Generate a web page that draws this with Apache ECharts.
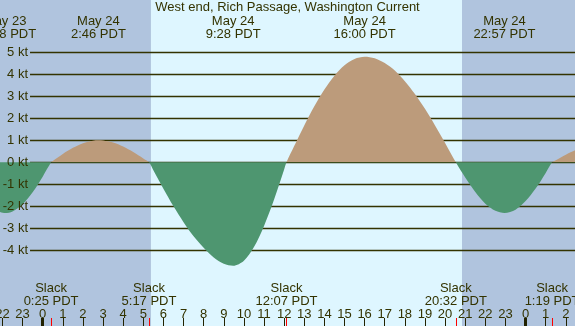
<!DOCTYPE html>
<html>
<head>
<meta charset="utf-8">
<script src="https://cdn.jsdelivr.net/npm/echarts@6/dist/echarts.min.js"></script>
<style>
  html, body { margin: 0; padding: 0; background: #B0C4DE; }
  #chart { width: 575px; height: 326px; }
</style>
</head>
<body>
<div id="chart"></div>
<script>
// hours from May 24 00:00 PDT
var times = [-2.5, -1.867, -1.5, -1.0, -0.5, 0.0, 0.417, 0.5, 1.0, 1.5, 2.0, 2.5, 2.767, 3.0, 3.5, 4.0, 4.5, 5.0, 5.283,
  5.5, 6.0, 6.5, 7.0, 7.5, 8.0, 8.5, 9.0, 9.467, 10.0, 10.5, 11.0, 11.5, 12.0, 12.117,
  12.5, 13.0, 13.5, 14.0, 14.5, 15.0, 15.5, 16.0, 16.5, 17.0, 17.5, 18.0, 18.5, 19.0, 19.5, 20.0, 20.533,
  21.0, 21.5, 22.0, 22.5, 22.95, 23.5, 24.0, 24.5, 25.0, 25.317, 25.5, 26.0, 26.5];
// current speed, knots (flood +, ebb -)
var speeds = [-2.13, -2.30, -2.23, -1.90, -1.36, -0.65, 0, 0.06, 0.38, 0.66, 0.87, 0.98, 1.00, 0.99, 0.90, 0.72, 0.47, 0.18, 0,
  -0.36, -1.20, -2.00, -2.72, -3.36, -3.88, -4.32, -4.61, -4.70, -4.47, -3.85, -2.89, -1.69, -0.33, 0,
  0.74, 1.68, 2.55, 3.31, 3.94, 4.41, 4.70, 4.80, 4.73, 4.51, 4.17, 3.69, 3.11, 2.43, 1.68, 0.88, 0,
  -0.69, -1.35, -1.88, -2.20, -2.30, -2.15, -1.76, -1.19, -0.48, 0, 0.10, 0.35, 0.57];

var hourTicks = [-2, -1, 0, 1, 2, 3, 4, 5, 6, 7, 8, 9, 10, 11, 12, 13, 14, 15, 16, 17, 18, 19, 20, 21, 22, 23, 24, 25, 26];
var midnights = [0, 24];
var slackTimes = [0.417, 5.283, 12.117, 20.533, 25.317];
var slackLabels = ['0:25 PDT', '5:17 PDT', '12:07 PDT', '20:32 PDT', '1:19 PDT'];
var peakTimes = [-1.867, 2.767, 9.467, 16.0, 22.95];
var peakDates = ['May 23', 'May 24', 'May 24', 'May 24', 'May 24'];
var peakLabels = ['22:08 PDT', '2:46 PDT', '9:28 PDT', '16:00 PDT', '22:57 PDT'];
var ktLevels = [5, 4, 3, 2, 1, 0, -1, -2, -3, -4];
var sunrise = 5.38, sunset = 20.84;

var xMin = -2.122, xMax = 26.456;
var yMin = -7.436, yMax = 7.377;
var lineStart = -0.63;

var ink = '#333300';
var dayColor = '#DEF6FF', nightColor = '#B0C4DE';
var floodColor = '#BC9B7B', ebbColor = '#4E9670';

var chart = echarts.init(document.getElementById('chart'));

function baseX(extra) {
  var o = {
    type: 'value', min: xMin, max: xMax, position: 'bottom',
    axisLine: { show: false, onZero: false }, splitLine: { show: false },
    axisTick: { show: false }, axisLabel: { show: false }
  };
  for (var k in extra) o[k] = extra[k];
  return o;
}

var option = {
  animation: false,
  textStyle: { fontFamily: 'Liberation Sans', color: ink },
  title: {
    text: 'West end, Rich Passage, Washington Current',
    left: 'center', top: 1, padding: 0,
    textStyle: { fontSize: 13, fontWeight: 'normal', color: ink, fontFamily: 'Liberation Sans' }
  },
  grid: { left: 0, right: 0, top: 0, bottom: 0, outerBoundsMode: 'none' },
  xAxis: [
    baseX({
      axisTick: { show: true, inside: true, length: 8, customValues: hourTicks, lineStyle: { color: '#222200', width: 1 } },
      axisLabel: {
        show: true, inside: true, margin: 5, customValues: hourTicks, fontSize: 13, color: ink,
        formatter: function (v) { return String(((Math.round(v) % 24) + 24) % 24); }
      }
    }),
    baseX({
      axisTick: { show: true, inside: true, length: 8, customValues: midnights, lineStyle: { color: '#222200', width: 3 } }
    }),
    baseX({
      axisTick: { show: true, inside: true, length: 8, customValues: slackTimes, lineStyle: { color: '#FF0000', width: 1 } },
      axisLabel: {
        show: true, inside: true, margin: 18, customValues: slackTimes, fontSize: 13, lineHeight: 13, color: ink,
        formatter: function (v) {
          var i = slackTimes.indexOf(v);
          return 'Slack\n' + slackLabels[i];
        }
      }
    }),
    baseX({
      position: 'top',
      axisLabel: {
        show: true, inside: true, margin: 15, customValues: peakTimes, fontSize: 13, lineHeight: 13, color: ink,
        formatter: function (v) {
          var i = peakTimes.indexOf(v);
          return peakDates[i] + '\n' + peakLabels[i];
        }
      }
    })
  ],
  yAxis: {
    type: 'value', min: yMin, max: yMax, z: 10,
    axisLine: { show: false, onZero: false }, axisTick: { show: false }, splitLine: { show: false },
    axisLabel: {
      show: true, inside: true, margin: 28, align: 'right', customValues: ktLevels,
      fontSize: 13, color: ink, fontFamily: 'Liberation Sans',
      formatter: function (v) { return v + ' kt'; }
    }
  },
  visualMap: {
    show: false, type: 'piecewise', dimension: 1, seriesIndex: 0,
    pieces: [{ gte: -20, lt: 0, color: ebbColor }, { gte: 0, lte: 20, color: floodColor }],
    outOfRange: { color: floodColor }
  },
  graphic: [{
    type: 'text', left: 570, top: 27,
    style: { text: '3:31 PDT', fontSize: 13, fill: ink, fontFamily: 'Liberation Sans' }
  }],
  series: [
    {
      type: 'line', z: 3, symbol: 'none', smooth: 0.3,
      data: times.map(function (t, i) { return [t, speeds[i]]; }),
      lineStyle: { width: 0 },
      areaStyle: { opacity: 1, origin: 0 },
      markArea: {
        silent: true, z: 0,
        data: [
          [{ xAxis: xMin, itemStyle: { color: nightColor } }, { xAxis: sunrise }],
          [{ xAxis: sunrise, itemStyle: { color: dayColor } }, { xAxis: sunset }],
          [{ xAxis: sunset, itemStyle: { color: nightColor } }, { xAxis: xMax }]
        ]
      },
      markLine: {
        silent: true, z: 1, symbol: ['none', 'none'],
        lineStyle: { color: ink, width: 1.3, type: 'solid' },
        label: { show: false },
        data: ktLevels.map(function (k) {
          return [{ coord: [lineStart, k] }, { coord: [xMax, k] }];
        })
      }
    }
  ]
};

chart.setOption(option);
</script>
</body>
</html>
